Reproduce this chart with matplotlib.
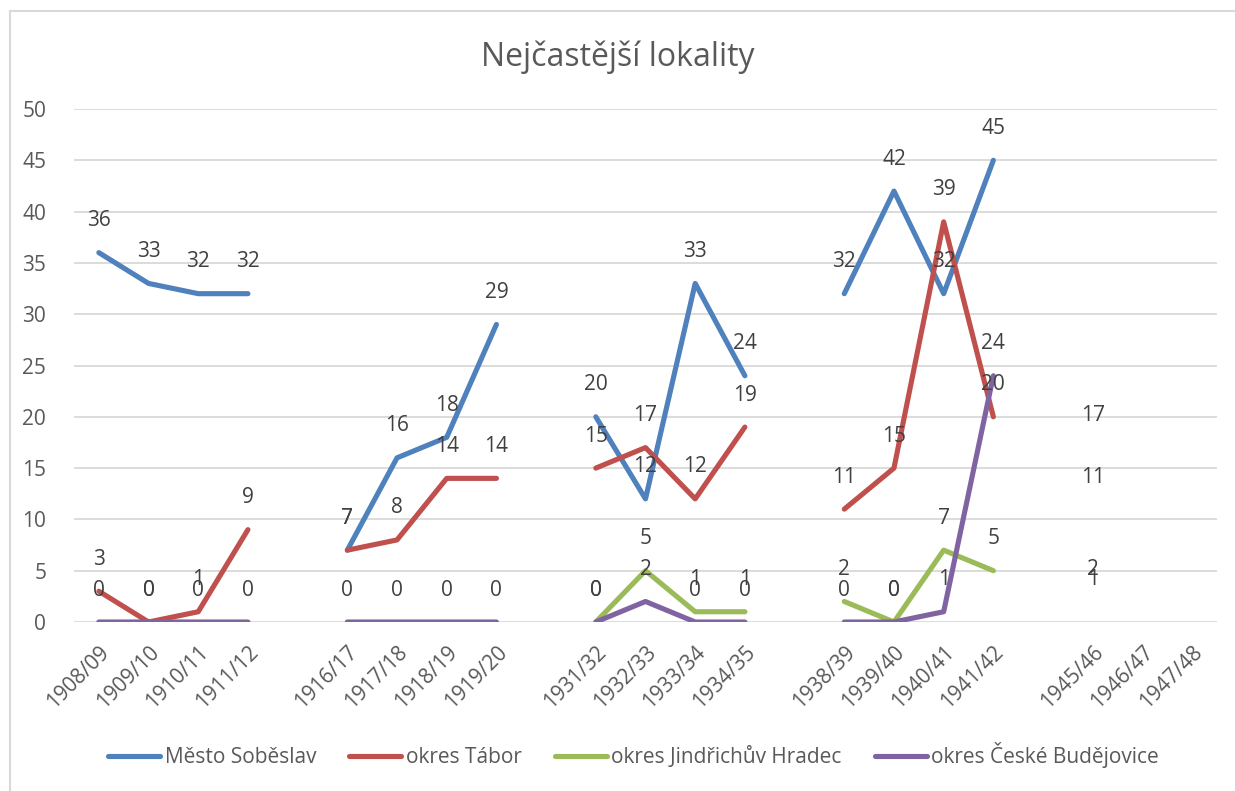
import numpy as np
import matplotlib
matplotlib.use('Agg')
import matplotlib.pyplot as plt
from matplotlib.lines import Line2D

plt.rcParams['font.family'] = ['Open Sans', 'DejaVu Sans']

nan = np.nan

# school years on the x axis, blanks are empty categories
years = ['1908/09', '1909/10', '1910/11', '1911/12', '',
         '1916/17', '1917/18', '1918/19', '1919/20', '',
         '1931/32', '1932/33', '1933/34', '1934/35', '',
         '1938/39', '1939/40', '1940/41', '1941/42', '',
         '1945/46', '1946/47', '1947/48']

mesto_sobeslav = [36, 33, 32, 32, nan, 7, 16, 18, 29, nan, 20, 12, 33, 24, nan,
                  32, 42, 32, 45, nan, 17, nan, nan]
okres_tabor = [3, 0, 1, 9, nan, 7, 8, 14, 14, nan, 15, 17, 12, 19, nan,
               11, 15, 39, 20, nan, 11, nan, nan]
okres_jh = [nan, nan, nan, nan, nan, nan, nan, nan, nan, nan, 0, 5, 1, 1, nan,
            2, 0, 7, 5, nan, 2, nan, nan]
okres_cb = [0, 0, 0, 0, nan, 0, 0, 0, 0, nan, 0, 2, 0, 0, nan,
            0, 0, 1, 24, nan, 1, nan, nan]

series = ['Město Soběslav', 'okres Tábor', 'okres Jindřichův Hradec', 'okres České Budějovice']
values = [mesto_sobeslav, okres_tabor, okres_jh, okres_cb]
colors = ['#4F81BD', '#C0504D', '#9BBB59', '#8064A2']

fig = plt.figure(figsize=(12.35, 7.91), dpi=100)
ax = fig.add_axes([74 / 1235, 1 - 622 / 791, (1217 - 74) / 1235, (622 - 109) / 791])

x = np.arange(len(years))
for name, vals, c in zip(series, values, colors):
    y = np.array(vals, dtype=float)
    ax.plot(x, y, color=c, lw=3.7, solid_capstyle='round', solid_joinstyle='round', label=name)
    for xi, yi in zip(x, y):
        if not np.isnan(yi):
            ax.annotate(str(int(yi)), (xi, yi), xytext=(0, 23), textcoords='offset points',
                        ha='center', va='center', fontsize=15, color='#404040')

ax.set_xlim(-0.5, len(years) - 0.5)
ax.set_ylim(0, 50)
ax.set_yticks(range(0, 51, 5))
ax.set_xticks(x)
ax.set_xticklabels(years, rotation=45, ha='right', rotation_mode='anchor')
ax.tick_params(axis='both', length=0, labelsize=15, labelcolor='#595959')
ax.tick_params(axis='y', pad=20)
ax.tick_params(axis='x', pad=14)
ax.grid(axis='y', color='#D9D9D9', lw=1.3)
ax.set_axisbelow(True)
for s in ax.spines.values():
    s.set_visible(False)

fig.text(0.5, 1 - 57 / 791, 'Nejčastější lokality', ha='center', va='center', fontsize=23, color='#595959')

handles = [Line2D([], [], color=c, lw=3.7, solid_capstyle='round') for c in colors]
fig.legend(handles, series, loc='center', bbox_to_anchor=(0.513, 1 - 755 / 791), ncol=4, frameon=False,
           fontsize=15, labelcolor='#595959', handlelength=2.5, handletextpad=0.2, columnspacing=1.6)

# chart border (top and left only visible)
fig.add_artist(Line2D([10 / 1235, 10 / 1235], [0, 1 - 11 / 791], color='#D9D9D9', lw=1.5, transform=fig.transFigure))
fig.add_artist(Line2D([10 / 1235, 1], [1 - 11 / 791, 1 - 11 / 791], color='#D9D9D9', lw=1.5, transform=fig.transFigure))

fig.savefig('out.png', dpi=100, facecolor='white')
